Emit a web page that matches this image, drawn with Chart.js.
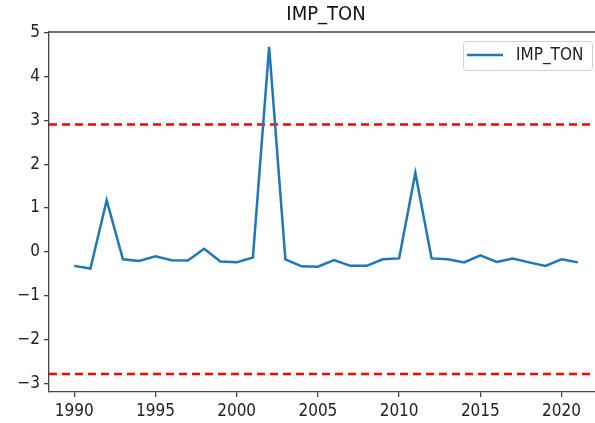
<!DOCTYPE html>
<html lang="en">
<head>
  <meta charset="UTF-8">
  <title>IMP_TON</title>
  <script src="https://cdn.jsdelivr.net/npm/chart.js"></script>
  <style>
    html, body { margin: 0; padding: 0; background: #fff; overflow: hidden; }
  </style>
</head>
<body>
  <canvas id="grafico" width="610" height="423"></canvas>

  <script>
    // datos
    const years = [1990, 1991, 1992, 1993, 1994, 1995, 1996, 1997, 1998, 1999,
                   2000, 2001, 2002, 2003, 2004, 2005, 2006, 2007, 2008, 2009,
                   2010, 2011, 2012, 2013, 2014, 2015, 2016, 2017, 2018, 2019,
                   2020, 2021];
    const impTon = [-0.32, -0.38, 1.18, -0.17, -0.21, -0.10, -0.19, -0.20, 0.07, -0.22,
                    -0.24, -0.13, 4.68, -0.17, -0.33, -0.34, -0.19, -0.32, -0.32, -0.17,
                    -0.15, 1.80, -0.15, -0.17, -0.24, -0.08, -0.23, -0.15, -0.24, -0.32,
                    -0.17, -0.24];
    const upperLimit = 2.91;
    const lowerLimit = -2.79;
    const xTicks = [1990, 1995, 2000, 2005, 2010, 2015, 2020];
    const yTicks = [-3, -2, -1, 0, 1, 2, 3, 4, 5];
    const xRange = [1988.45, 2022.55];
    const yRange = [-3.2, 5.02];

    const FONT = "'DejaVu Sans Condensed', 'DejaVu Sans', sans-serif";

    // borde superior (spine) y leyenda estilo matplotlib
    const extras = {
      id: 'extras',
      afterDraw(chart) {
        const { ctx, chartArea } = chart;
        ctx.save();
        ctx.strokeStyle = '#444';
        ctx.lineWidth = 1.3;
        ctx.beginPath();
        ctx.moveTo(chartArea.left, chartArea.top);
        ctx.lineTo(chartArea.right, chartArea.top);
        ctx.lineTo(chartArea.right, chartArea.bottom);
        ctx.stroke();

        // leyenda
        const x0 = 463, y0 = 41, w = 129, h = 29, r = 3;
        ctx.fillStyle = 'rgba(255,255,255,0.9)';
        ctx.strokeStyle = '#d0d0d0';
        ctx.lineWidth = 1;
        ctx.beginPath();
        ctx.roundRect(x0 + 0.5, y0 + 0.5, w, h, r);
        ctx.fill();
        ctx.stroke();
        ctx.strokeStyle = '#1f77b4';
        ctx.lineWidth = 2.5;
        ctx.beginPath();
        ctx.moveTo(467, 55);
        ctx.lineTo(503, 55);
        ctx.stroke();
        ctx.fillStyle = '#222';
        ctx.font = '17px ' + FONT;
        ctx.textBaseline = 'middle';
        ctx.fillText('IMP_TON', 516, 56);
        ctx.restore();
      }
    };

    const ctx = document.getElementById('grafico').getContext('2d');
    new Chart(ctx, {
      type: 'line',
      data: {
        datasets: [
          {
            label: 'IMP_TON',
            data: years.map((y, i) => ({ x: y, y: impTon[i] })),
            borderColor: '#1f77b4',
            borderWidth: 2.5,
            pointRadius: 0,
            tension: 0,
            fill: false
          },
          {
            label: 'upper',
            data: [{ x: xRange[0], y: upperLimit }, { x: xRange[1], y: upperLimit }],
            borderColor: '#ff0000',
            borderWidth: 2.5,
            borderDash: [8, 5],
            pointRadius: 0,
            fill: false
          },
          {
            label: 'lower',
            data: [{ x: xRange[0], y: lowerLimit }, { x: xRange[1], y: lowerLimit }],
            borderColor: '#ff0000',
            borderWidth: 2.5,
            borderDash: [8, 5],
            pointRadius: 0,
            fill: false
          }
        ]
      },
      options: {
        responsive: false,
        animation: false,
        layout: { padding: { left: 0, right: 7, top: 0, bottom: 0 } },
        plugins: {
          legend: { display: false },
          tooltip: { enabled: false },
          title: {
            display: true,
            text: 'IMP_TON',
            fullSize: false,
            color: '#111',
            font: { family: FONT, size: 20, weight: 'normal' },
            padding: { top: 3, bottom: 5 }
          }
        },
        scales: {
          x: {
            type: 'linear',
            min: xRange[0],
            max: xRange[1],
            afterBuildTicks: axis => { axis.ticks = xTicks.map(v => ({ value: v })); },
            afterFit: axis => { axis.height = 31; },
            grid: { drawOnChartArea: false, drawTicks: true, tickLength: 5, color: '#444', lineWidth: 1.3 },
            border: { display: true, color: '#444', width: 1.3 },
            ticks: {
              color: '#222',
              padding: 4,
              maxRotation: 0,
              font: { family: FONT, size: 17 },
              callback: v => String(v)
            }
          },
          y: {
            min: yRange[0],
            max: yRange[1],
            afterBuildTicks: axis => { axis.ticks = yTicks.map(v => ({ value: v })); },
            afterFit: axis => { axis.width = 49; },
            grid: { drawOnChartArea: false, drawTicks: true, tickLength: 5, color: '#444', lineWidth: 1.3 },
            border: { display: true, color: '#444', width: 1.3 },
            ticks: {
              color: '#222',
              padding: 4,
              font: { family: FONT, size: 17 },
              callback: v => (v < 0 ? '\u2212' + Math.abs(v) : String(v))
            }
          }
        }
      },
      plugins: [extras]
    });
  </script>
</body>
</html>
